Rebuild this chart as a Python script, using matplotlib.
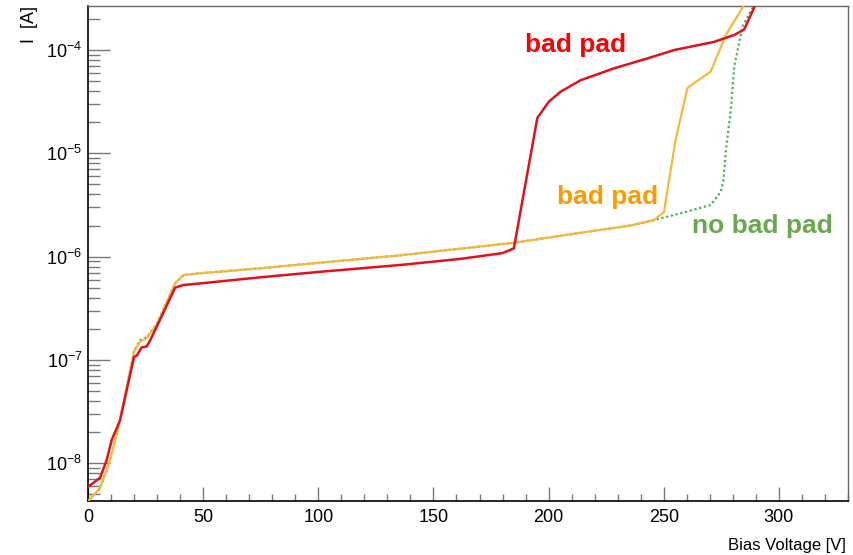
import matplotlib
matplotlib.use("Agg")
import matplotlib.pyplot as plt
from matplotlib.ticker import LogLocator, MultipleLocator, FixedLocator, FixedFormatter

plt.rcParams['font.family'] = ['Liberation Sans', 'DejaVu Sans']
plt.rcParams['mathtext.fontset'] = 'custom'
plt.rcParams['mathtext.rm'] = 'Liberation Sans'
plt.rcParams['mathtext.it'] = 'Liberation Sans:italic'
plt.rcParams['mathtext.bf'] = 'Liberation Sans:bold'

# red curve: "bad pad" (early breakdown)
red_v = [0, 5.2, 8.1, 10.3, 13.9, 20, 21.2, 23.3, 25.5, 27, 31.3, 37.8, 41.3, 48.7, 74.8,
         100, 135.7, 161.7, 179.9, 184.9, 195.1, 200.1, 205.2, 213.9, 228.4, 242.9,
         254.5, 271.9, 280.6, 284.9, 292]
red_i = [5.9e-9, 7.2e-9, 1.07e-8, 1.68e-8, 2.6e-8, 1.07e-7, 1.1e-7, 1.32e-7, 1.35e-7, 1.55e-7,
         2.45e-7, 5.0e-7, 5.3e-7, 5.5e-7, 6.3e-7, 7.1e-7, 8.3e-7, 9.5e-7, 1.08e-6, 1.2e-6,
         2.2e-5, 3.16e-5, 3.95e-5, 5.1e-5, 6.65e-5, 8.3e-5, 1.0e-4, 1.2e-4, 1.4e-4, 1.58e-4, 3.5e-4]

# orange curve: "bad pad" (late breakdown)
orange_v = [0, 5.2, 9.6, 13.9, 20, 22.6, 25.5, 29.9, 37.8, 41.4, 48.7, 74.8, 100, 135.7,
            184.9, 213.9, 235.7, 245.8, 250.1, 252, 255, 260.3, 270.4, 277, 280.6, 286]
orange_i = [4.3e-9, 5.7e-9, 1.07e-8, 2.6e-8, 1.2e-7, 1.5e-7, 1.62e-7, 2.2e-7, 5.5e-7, 6.6e-7,
            6.9e-7, 7.7e-7, 8.7e-7, 1.03e-6, 1.36e-6, 1.7e-6, 2.0e-6, 2.26e-6, 2.7e-6, 5e-6,
            1.3e-5, 4.3e-5, 6.2e-5, 1.4e-4, 1.9e-4, 3.0e-4]

# green dotted curve: "no bad pad"
green_v = [0, 5.2, 9.6, 13.9, 20, 22.6, 25.5, 29.9, 37.8, 41.4, 48.7, 74.8, 100, 135.7,
           184.9, 213.9, 235.7, 245.8, 257.4, 270.4, 274.8, 275.9, 277, 279.1, 280.6, 284.2, 291]
green_i = [4.3e-9, 5.7e-9, 1.07e-8, 2.6e-8, 1.22e-7, 1.55e-7, 1.65e-7, 2.25e-7, 5.5e-7, 6.6e-7,
           6.9e-7, 7.7e-7, 8.7e-7, 1.03e-6, 1.36e-6, 1.7e-6, 2.0e-6, 2.26e-6, 2.63e-6, 3.16e-6,
           4.25e-6, 5.5e-6, 1.08e-5, 2.6e-5, 6.9e-5, 1.7e-4, 3.2e-4]

y_ticks = [1e-8, 1e-7, 1e-6, 1e-5, 1e-4]
y_ticklabels = ['$10^{-8}$', '$10^{-7}$', '$10^{-6}$', '$10^{-5}$', '$10^{-4}$']

fig = plt.figure(figsize=(8.54, 5.55), dpi=100)
ax = fig.add_axes([88/854, 1 - 501/555, (848 - 88)/854, (501 - 6)/555])

ax.plot(green_v, green_i, color='#4cb050', lw=1.6, ls=(0, (1, 1.2)), zorder=2)
ax.plot(orange_v, orange_i, color='#f5b83a', lw=1.6, zorder=3)
ax.plot(red_v, red_i, color='#e3101c', lw=1.8, zorder=4)

ax.set_yscale('log')
ax.set_xlim(0, 330)
ax.set_ylim(4.3e-9, 2.67e-4)

ax.yaxis.set_major_locator(FixedLocator(y_ticks))
ax.yaxis.set_major_formatter(FixedFormatter(y_ticklabels))
ax.yaxis.set_minor_locator(LogLocator(base=10, subs=range(2, 10), numticks=20))
ax.yaxis.set_minor_formatter(plt.NullFormatter())
ax.xaxis.set_major_locator(MultipleLocator(50))
ax.xaxis.set_minor_locator(MultipleLocator(10))

ax.tick_params(axis='y', which='major', direction='in', length=16, width=1, color='#777777',
               labelsize=13, pad=4, right=False)
ax.tick_params(axis='y', which='minor', direction='in', length=8.5, width=1, color='#777777', right=False)
ax.tick_params(axis='x', which='major', direction='in', length=10, width=1, color='#777777',
               labelsize=13, pad=6, top=False)
ax.tick_params(axis='x', which='minor', direction='in', length=5, width=1, color='#777777', top=False)

for side in ['left', 'bottom']:
    ax.spines[side].set_color('black')
    ax.spines[side].set_linewidth(1.2)
for side in ['top', 'right']:
    ax.spines[side].set_color('#666666')
    ax.spines[side].set_linewidth(1.0)

ax.text(211.7, 1.12e-4, 'bad pad', color='#ff0000', fontsize=19, fontweight='bold',
        ha='center', va='center')
ax.text(225.7, 3.8e-6, 'bad pad', color='#ff9900', fontsize=19, fontweight='bold',
        ha='center', va='center')
ax.text(292.9, 1.98e-6, 'no bad pad', color='#6aa84f', fontsize=19, fontweight='bold',
        ha='center', va='center')

fig.text(846/854, 1 - 550/555, 'Bias Voltage [V]', fontsize=12, ha='right', va='baseline')
fig.text(30/854, 1 - 6/555, 'I  [A]', fontsize=13, rotation=90, ha='center', va='top')

fig.savefig('out.png', dpi=100)
